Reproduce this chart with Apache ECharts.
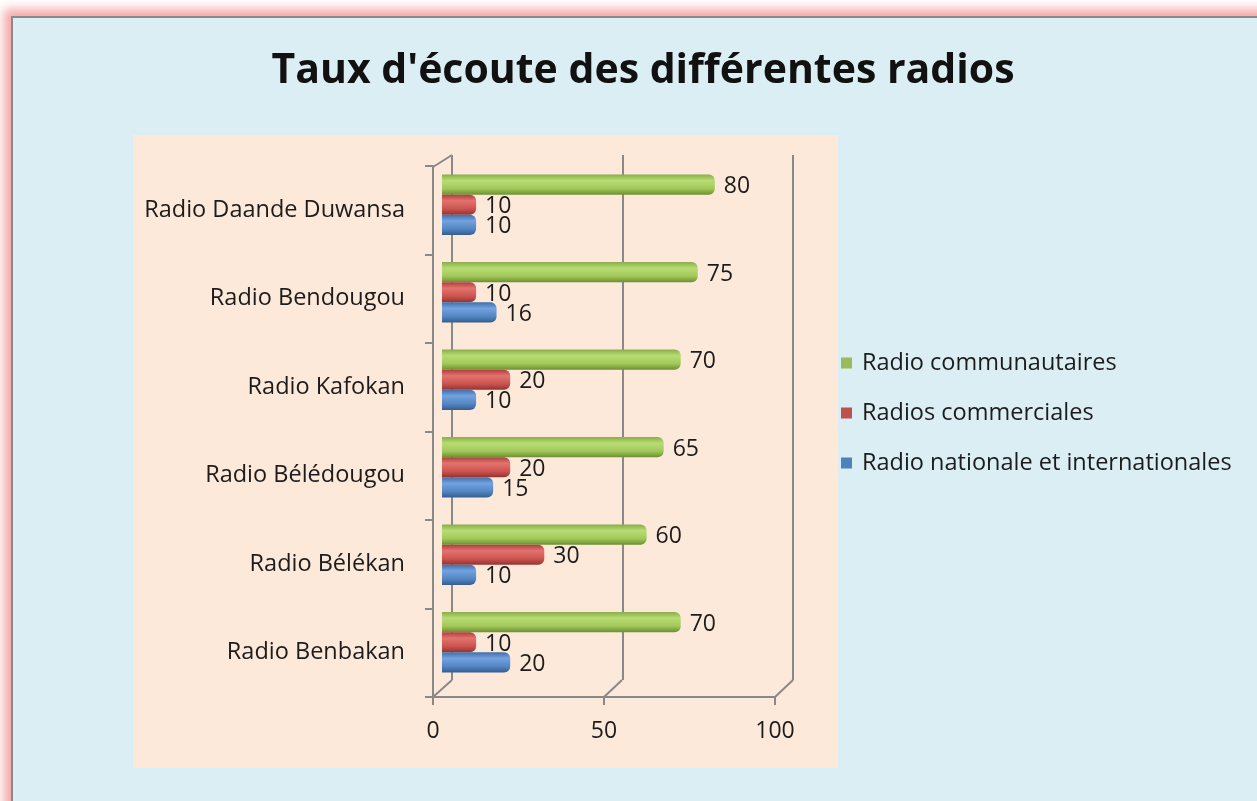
<!DOCTYPE html>
<html>
<head>
<meta charset="utf-8">
<script src="https://cdn.jsdelivr.net/npm/echarts@6/dist/echarts.min.js"></script>
<style>
  html, body { margin: 0; padding: 0; background: #fff; overflow: hidden; }
  #frame {
    position: absolute; left: 11px; top: 16px; width: 1260px; height: 800px;
    background: #DBEEF4; border: 2px solid #8a8a8a;
    box-shadow: 0 0 10px 7px #f6a7a7;
  }
  #main { position: absolute; left: 0; top: 0; width: 1257px; height: 801px; }
</style>
</head>
<body>
<div id="frame"></div>
<div id="main"></div>
<script>
var categories = ['Radio Benbakan', 'Radio Bélékan', 'Radio Bélédougou', 'Radio Kafokan', 'Radio Bendougou', 'Radio Daande Duwansa'];
var nationale = [20, 10, 15, 10, 16, 10];
var commerciales = [10, 30, 20, 20, 10, 10];
var communautaires = [70, 60, 65, 70, 75, 80];
var xTicks = [0, 50, 100];

var dom = document.getElementById('main');
var myChart = echarts.init(dom);
var font = 'Open Sans';
var axisGray = '#898989';

function cyl(c1, c2, c3, c4) {
    return new echarts.graphic.LinearGradient(0, 0, 0, 1, [
        { offset: 0, color: c1 },
        { offset: 0.3, color: c2 },
        { offset: 0.7, color: c3 },
        { offset: 1, color: c4 }
    ]);
}

function barSeries(name, data, color) {
    return {
        name: name,
        type: 'bar',
        xAxisIndex: 2,
        yAxisIndex: 2,
        data: data,
        barGap: 0,
        barCategoryGap: '31%',
        itemStyle: { color: color, borderRadius: [0, 6, 6, 0] },
        label: {
            show: true, position: 'right', distance: 9,
            fontFamily: font, fontSize: 23, color: '#1c1c1c', offset: [0, 2]
        }
    };
}

option = {
    backgroundColor: 'transparent',
    animation: false,
    title: {
        text: "Taux d'écoute des différentes radios",
        left: 638, top: 46, textAlign: 'center',
        textStyle: { fontFamily: font, fontSize: 41, fontWeight: 'bold', color: '#111' }
    },
    legend: {
        orient: 'vertical',
        left: 836, top: 346,
        icon: 'rect', itemWidth: 11, itemHeight: 11, itemGap: 26,
        data: [
            { name: 'Radio communautaires', itemStyle: { color: '#9bbb59' } },
            { name: 'Radios commerciales', itemStyle: { color: '#c0504d' } },
            { name: 'Radio nationale et internationales', itemStyle: { color: '#4f81bd' } }
        ],
        textStyle: { fontFamily: font, fontSize: 23.5, color: '#1c1c1c', lineHeight: 24, padding: [0, 0, 0, 5] }
    },
    graphic: [
        { type: 'rect', z: -10, shape: { x: 133, y: 135, width: 705, height: 633 }, style: { fill: '#FDE9D9' } },
        // 3D floor / corner edges
        { type: 'line', shape: { x1: 433, y1: 697, x2: 452, y2: 680 }, style: { stroke: axisGray, lineWidth: 2 } },
        { type: 'line', shape: { x1: 604, y1: 697, x2: 622, y2: 680 }, style: { stroke: axisGray, lineWidth: 2 } },
        { type: 'line', shape: { x1: 775, y1: 697, x2: 793, y2: 680 }, style: { stroke: axisGray, lineWidth: 2 } },
        { type: 'line', shape: { x1: 433, y1: 167, x2: 452, y2: 155 }, style: { stroke: axisGray, lineWidth: 2 } }
    ],
    grid: [
        { left: 433, width: 342, top: 166, height: 531 },   // front
        { left: 452, width: 341, top: 155, height: 525 },   // back wall
        { left: 442, width: 341, top: 161, height: 525 }    // bars
    ],
    xAxis: [
        {
            gridIndex: 0, type: 'value', min: 0, max: 100, interval: 50,
            axisLine: { show: true, lineStyle: { color: axisGray, width: 2 } },
            axisTick: { show: true, length: 8, lineStyle: { color: axisGray, width: 2 } },
            axisLabel: {
                margin: 23, fontFamily: font, fontSize: 23, color: '#1c1c1c',
                formatter: function (v) { return xTicks.indexOf(v) >= 0 ? String(v) : ''; }
            },
            splitLine: { show: false }
        },
        {
            gridIndex: 1, type: 'value', min: 0, max: 100, interval: 50,
            axisLine: { show: false }, axisTick: { show: false }, axisLabel: { show: false },
            splitLine: { show: true, lineStyle: { color: axisGray, width: 2 } }
        },
        {
            gridIndex: 2, type: 'value', min: 0, max: 100, interval: 50,
            axisLine: { show: false }, axisTick: { show: false }, axisLabel: { show: false },
            splitLine: { show: false }
        }
    ],
    yAxis: [
        {
            gridIndex: 0, type: 'category', data: categories,
            axisLine: { show: true, lineStyle: { color: axisGray, width: 2 } },
            axisTick: { show: true, length: 8, lineStyle: { color: axisGray, width: 2 } },
            axisLabel: { margin: 28, fontFamily: font, fontSize: 23.5, color: '#1c1c1c', padding: [3, 0, 0, 0] }
        },
        {
            gridIndex: 1, type: 'category', data: categories,
            axisLine: { show: false }, axisTick: { show: false }, axisLabel: { show: false }
        },
        {
            gridIndex: 2, type: 'category', data: categories,
            axisLine: { show: false }, axisTick: { show: false }, axisLabel: { show: false }
        }
    ],
    series: [
        barSeries('Radio communautaires', communautaires, cyl('#8aad47', '#b8dc74', '#a2c85a', '#6e8f33')),
        barSeries('Radios commerciales', commerciales, cyl('#ae3f3c', '#e4726e', '#cc5450', '#933331')),
        barSeries('Radio nationale et internationales', nationale, cyl('#406fa9', '#73a2df', '#5386c3', '#365d8f'))
    ]
};
if (option && typeof option === "object") {
    myChart.setOption(option, true);
}
</script>
</body>
</html>
